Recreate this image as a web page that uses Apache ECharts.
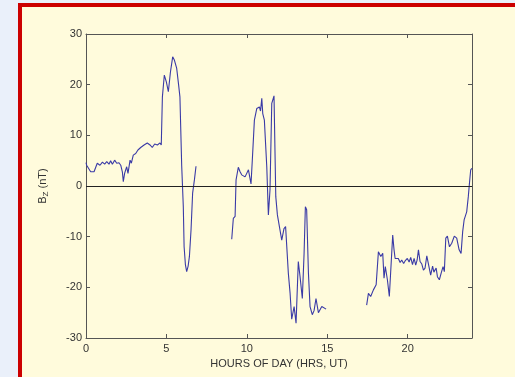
<!DOCTYPE html>
<html>
<head>
<meta charset="utf-8">
<script src="https://cdn.jsdelivr.net/npm/echarts@6/dist/echarts.min.js"></script>
<style>
  html, body { margin: 0; padding: 0; background: #eaf0fa; overflow: hidden; }
  #frame {
    position: absolute; left: 18px; top: 3px; width: 520px; height: 400px;
    border: 4px solid #cc0000; border-right: none; border-bottom: none;
    background: #fffbdc; box-sizing: border-box;
  }
  #chart { position: absolute; left: 0; top: 0; width: 515px; height: 377px; }
</style>
</head>
<body>
<div id="frame"></div>
<div id="chart"></div>
<script>
// Interplanetary magnetic field Bz (nT) versus hour of day (UT); gaps are missing data
const seg1Hours = [0.0, 0.04, 0.29, 0.5, 0.7, 0.87, 1.02, 1.16, 1.29, 1.43, 1.53, 1.64, 1.78, 1.91, 2.05, 2.16, 2.26, 2.32, 2.4, 2.53, 2.61, 2.74, 2.82, 2.94, 3.09, 3.23, 3.4, 3.61, 3.81, 3.98, 4.12, 4.27, 4.44, 4.6, 4.68, 4.75, 4.87, 5.0, 5.12, 5.25, 5.39, 5.5, 5.64, 5.76, 5.84, 5.95, 6.05, 6.1, 6.18, 6.26, 6.35, 6.43, 6.53, 6.63, 6.74, 6.84];
const seg1Bz    = [4.6, 4.1, 2.8, 2.8, 4.5, 4.1, 4.7, 4.3, 4.8, 4.3, 5.0, 4.3, 5.1, 4.5, 4.6, 4.1, 2.8, 0.85, 2.5, 3.8, 2.5, 5.1, 4.5, 6.1, 6.4, 7.1, 7.6, 8.1, 8.5, 8.1, 7.6, 8.3, 8.1, 8.5, 8.1, 17.6, 21.9, 20.5, 18.6, 22.5, 25.5, 24.8, 23.2, 19.9, 17.6, 4.0, -4.1, -12.0, -15.5, -16.9, -15.8, -13.9, -8.7, -1.4, 1.2, 3.9];

const seg2Hours = [9.06, 9.16, 9.27, 9.33, 9.47, 9.58, 9.68, 9.89, 10.1, 10.26, 10.34, 10.47, 10.62, 10.78, 10.85, 10.93, 10.99, 11.09, 11.24, 11.34, 11.44, 11.55, 11.69, 11.8, 11.9, 12.02, 12.17, 12.31, 12.41, 12.58, 12.69, 12.79, 12.94, 13.06, 13.2, 13.31, 13.45, 13.56, 13.64, 13.72, 13.83, 13.93, 14.07, 14.18, 14.3, 14.45, 14.66, 14.93];
const seg2Bz    = [-10.5, -6.4, -6.0, 1.2, 3.7, 2.8, 2.2, 1.8, 3.2, 0.4, 5.1, 13.0, 15.3, 15.6, 14.8, 17.3, 14.3, 13.0, 3.8, -5.7, -0.8, 16.3, 17.8, -2.1, -5.7, -5.4, -10.7, -8.4, -8.0, -17.2, -21.2, -26.3, -23.8, -27.1, -14.9, -17.9, -22.2, -13.3, -4.1, -4.7, -17.2, -23.8, -25.4, -24.6, -22.2, -25.0, -23.8, -24.3];

const seg3Hours = [17.45, 17.56, 17.7, 17.87, 18.04, 18.18, 18.33, 18.45, 18.53, 18.61, 18.74, 18.86, 18.97, 19.07, 19.15, 19.22, 19.32, 19.42, 19.53, 19.63, 19.75, 19.84, 19.98, 20.09, 20.19, 20.3, 20.4, 20.5, 20.59, 20.67, 20.77, 20.88, 20.98, 21.08, 21.19, 21.29, 21.36, 21.43, 21.55, 21.63, 21.77, 21.85, 21.97, 22.1, 22.2, 22.28, 22.37, 22.47, 22.6, 22.74, 22.9, 23.05, 23.2, 23.32, 23.42, 23.51, 23.67, 23.77, 23.84, 23.92, 24.0];
const seg3Bz    = [-23.5, -21.2, -21.8, -20.5, -19.5, -13.0, -13.9, -13.3, -18.2, -15.9, -18.5, -21.8, -21.8, -9.7, -12.5, -14.3, -14.6, -14.3, -15.1, -14.6, -15.3, -14.8, -14.3, -15.0, -14.1, -15.5, -14.3, -15.6, -14.6, -12.6, -14.9, -15.4, -16.6, -16.2, -13.8, -13.9, -16.5, -17.6, -15.8, -17.0, -16.2, -17.9, -18.5, -17.0, -15.9, -16.9, -10.3, -9.9, -12.0, -11.3, -9.9, -10.3, -12.6, -13.3, -9.0, -6.7, -5.1, -2.1, 0.5, 3.2, 3.5];

const xTicks = [0, 5, 10, 15, 20];
const yTicks = [-30, -20, -10, 0, 10, 20, 30];

function pairs(h, v) { return h.map((x, i) => [x, v[i]]); }
const bzData = [].concat(
  pairs(seg1Hours, seg1Bz), [[null, null]],
  pairs(seg2Hours, seg2Bz), [[null, null]],
  pairs(seg3Hours, seg3Bz)
);

const axisColor = '#555555';
const labelStyle = { color: '#333333', fontFamily: 'Liberation Sans, Arial, sans-serif', fontSize: 11 };

function boxAxis(extra) {
  return Object.assign({
    axisLine: { show: true, onZero: false, lineStyle: { color: axisColor, width: 1 } },
    axisTick: { show: true, inside: true, length: 4, lineStyle: { color: axisColor } },
    splitLine: { show: false }
  }, extra);
}

const chart = echarts.init(document.getElementById('chart'));
chart.setOption({
  backgroundColor: 'transparent',
  animation: false,
  grid: { left: 86, top: 34, right: 43, bottom: 39 },
  xAxis: [
    boxAxis({
      type: 'value', min: 0, max: 24, interval: 5, position: 'bottom',
      name: 'HOURS OF DAY (HRS, UT)', nameLocation: 'middle', nameGap: 19,
      nameTextStyle: labelStyle,
      axisLabel: Object.assign({ margin: 5, showMaxLabel: false,
        formatter: v => xTicks.includes(v) ? String(v) : '' }, labelStyle)
    }),
    boxAxis({
      type: 'value', min: 0, max: 24, interval: 5, position: 'top',
      axisLabel: { show: false }
    })
  ],
  yAxis: [
    boxAxis({
      type: 'value', min: -30, max: 30, interval: 10, position: 'left',
      name: 'B{sub|Z} (nT)', nameLocation: 'middle', nameGap: 36,
      nameTextStyle: Object.assign({
        rich: { sub: { fontSize: 8, color: '#333333', verticalAlign: 'bottom', padding: [6, 0, 0, 0],
          fontFamily: 'Liberation Sans, Arial, sans-serif' } }
      }, labelStyle),
      axisLabel: Object.assign({ margin: 4,
        formatter: v => yTicks.includes(v) ? String(v) : '' }, labelStyle)
    }),
    boxAxis({
      type: 'value', min: -30, max: 30, interval: 10, position: 'right',
      axisLabel: { show: false }
    })
  ],
  series: [
    {
      type: 'line',
      data: bzData,
      connectNulls: false,
      showSymbol: false,
      lineStyle: { color: '#3a3aa6', width: 1.1 },
      markLine: {
        silent: true, symbol: 'none', label: { show: false },
        lineStyle: { color: '#222222', type: 'solid', width: 1 },
        data: [{ yAxis: 0 }]
      },
      z: 3
    }
  ]
});
</script>
</body>
</html>
